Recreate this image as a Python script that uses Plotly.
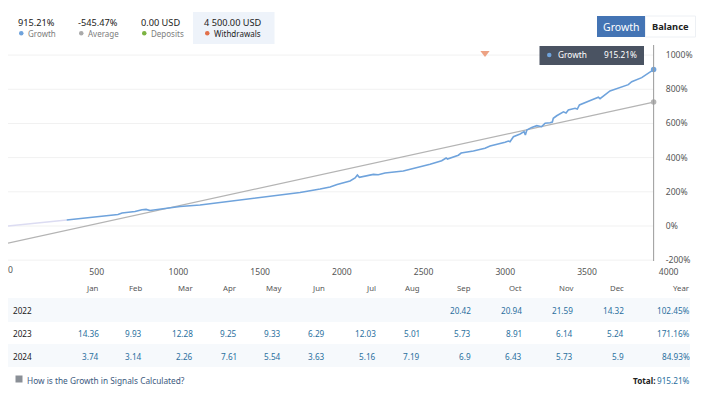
import plotly.graph_objects as go

W, H = 702, 400
FONT = "Noto Sans"

# pre-signal part of the growth curve (pale)
early_x = [-43, 100, 220, 316]
early_y = [0, 14, 25, 35]

growth_x = [316, 398, 520, 630, 655, 734, 777, 802, 826, 918, 1010, 1132, 1255, 1334, 1340, 1438, 1561, 1683,
            1744, 1867, 1928, 1971, 2020, 2050, 2081, 2095, 2107, 2142, 2193, 2223, 2264, 2376, 2458, 2540,
            2611, 2638, 2646, 2713, 2730, 2805, 2876, 2907, 2999, 3019, 3029, 3050, 3091, 3115, 3123, 3132,
            3162, 3193, 3223, 3244, 3274, 3288, 3294, 3315, 3356, 3372, 3386, 3427, 3441, 3454, 3539, 3570,
            3580, 3641, 3753, 3774, 3835, 3908]
growth_y = [35, 43, 56, 67, 76, 85, 95, 97, 91, 102, 114, 123, 137, 146, 149, 161, 173, 187,
            196, 216, 228, 243, 257, 263, 281, 298, 285, 291, 302, 300, 310, 322, 341, 361,
            382, 398, 392, 414, 427, 439, 455, 468, 490, 497, 493, 522, 538, 552, 532, 562,
            577, 587, 581, 601, 604, 608, 630, 645, 668, 661, 679, 689, 684, 708, 741, 753,
            745, 790, 827, 844, 868, 915]

average_x = [-43, 3908]
average_y = [-100, 725]

withdrawal_x = [2876]
withdrawal_y = [1012]

x_ticks = [500, 1000, 1500, 2000, 2500, 3000, 3500, 4000]
y_ticks = [-200, 0, 200, 400, 600, 800, 1000]
y_labels = ["-200%", "0%", "200%", "400%", "600%", "800%", "1000%"]

months = ["Jan", "Feb", "Mar", "Apr", "May", "Jun", "Jul", "Aug", "Sep", "Oct", "Nov", "Dec", "Year"]
row_2022 = ["", "", "", "", "", "", "", "", "20.42", "20.94", "21.59", "14.32", "102.45%"]
row_2023 = ["14.36", "9.93", "12.28", "9.25", "9.33", "6.29", "12.03", "5.01", "5.73", "8.91", "6.14", "5.24", "171.16%"]
row_2024 = ["3.74", "3.14", "2.26", "7.61", "5.54", "3.63", "5.16", "7.19", "6.9", "6.43", "5.73", "5.9", "84.93%"]
years = ["2022", "2023", "2024"]

stat_values = ["915.21%", "-545.47%", "0.00 USD", "4 500.00 USD"]
stat_names = ["Growth", "Average", "Deposits", "Withdrawals"]
stat_colors = ["#6fa3dc", "#aaaaaa", "#7cb342", "#e2704a"]

col_right = [98.5, 142, 193, 237, 281, 325, 376, 420, 471, 522, 573, 624, 690]
stat_left = [18, 78, 141, 204]


def px(x):
    return x / W


def py(y):
    return 1 - y / H


def rect(x0, y0, x1, y1, fill, line=None):
    return dict(type="rect", xref="paper", yref="paper", x0=px(x0), x1=px(x1), y0=py(y0), y1=py(y1),
                fillcolor=fill, line=dict(color=line or fill, width=1 if line else 0), layer="below")


def text(x, y, s, size=8.3, color="#333333", anchor="left", bold=False):
    if bold:
        s = f"<b>{s}</b>"
    # annotations carry about 2px of padding on the anchored side
    shift = {"left": -2, "right": 2, "center": 0}[anchor]
    return dict(xref="paper", yref="paper", x=px(x + shift), y=py(y), text=s, showarrow=False, xanchor=anchor,
                yanchor="middle", font=dict(family=FONT, size=size, color=color))


fig = go.Figure()
fig.add_trace(go.Scatter(x=early_x, y=early_y, mode="lines", line=dict(color="#dcdcf2", width=1.5)))
fig.add_trace(go.Scatter(x=average_x, y=average_y, mode="lines", line=dict(color="#b4b4b4", width=1.3)))
fig.add_trace(go.Scatter(x=growth_x, y=growth_y, mode="lines", line=dict(color="#6fa3dc", width=1.6)))
fig.add_trace(go.Scatter(x=average_x[-1:], y=average_y[-1:], mode="markers", cliponaxis=False,
                         marker=dict(color="#b4b4b4", size=5.5)))
fig.add_trace(go.Scatter(x=growth_x[-1:], y=growth_y[-1:], mode="markers", cliponaxis=False,
                         marker=dict(color="#6fa3dc", size=5.5)))
fig.add_trace(go.Scatter(x=withdrawal_x, y=withdrawal_y, mode="markers", cliponaxis=False,
                         marker=dict(color="#eda283", size=8, symbol="triangle-down")))

shapes = [
    rect(193, 12, 274.5, 44, "#eef3fa"),
    rect(8, 298, 690, 322, "#f6f9fc"),
    rect(8, 344, 690, 367, "#f6f9fc"),
    rect(597, 16, 645.5, 37, "#4474b4"),
    rect(645.5, 16, 695.5, 37, "#ffffff", "#edf0f4"),
    rect(15.5, 375.5, 22.5, 382.5, "#8a8f96"),
]
for y in y_ticks:
    shapes.append(dict(type="line", xref="x", yref="y", x0=-43, x1=3908, y0=y, y1=y,
                       line=dict(color="#f1f1f1", width=1), layer="below"))
shapes.append(dict(type="line", xref="x", yref="paper", x0=3908, x1=3908, y0=py(261), y1=py(45),
                   line=dict(color="#9a9a9a", width=1)))
# tooltip box
shapes.append(rect(539.5, 46, 644, 65, "#4a5362"))
shapes[-1]["layer"] = "above"
shapes.append(dict(type="circle", xref="paper", yref="paper", x0=px(547), x1=px(551.5), y0=py(57.3), y1=py(52.8),
                   fillcolor="#6fa3dc", line=dict(width=0)))
for left, color in zip(stat_left, stat_colors):
    shapes.append(dict(type="circle", xref="paper", yref="paper", x0=px(left + 1), x1=px(left + 5.5),
                       y0=py(35.5), y1=py(31), fillcolor=color, line=dict(width=0)))

notes = [text(8, 270, "0", 8.6, "#555555")]
for left, value, name in zip(stat_left, stat_values, stat_names):
    notes.append(text(left, 22, value, 9.2, "#222222"))
    notes.append(text(left + 9.5, 33.5, name, 8, "#222222" if name == "Withdrawals" else "#7d7d7d"))
notes.append(text(621, 26.5, "Growth", 10.5, "#ffffff", "center"))
notes.append(text(670.5, 26.5, "Balance", 9.3, "#222222", "center", True))
notes.append(text(557.5, 55, "Growth", 8.3, "#ffffff"))
notes.append(text(636.5, 55, "915.21%", 8.3, "#ffffff", "right"))

for right, name in zip(col_right, months):
    notes.append(text(right, 288, name, 7.8, "#555555", "right"))
for year, row, y in zip(years, [row_2022, row_2023, row_2024], [310, 333, 356]):
    notes.append(text(13, y, year, 8.2, "#222222"))
    for right, value in zip(col_right, row):
        if value:
            notes.append(text(right, y, value, 8.2, "#2a6f9e", "right"))
notes.append(text(27, 380, "How is the Growth in Signals Calculated?", 8.3, "#3d5a80"))
notes.append(text(690, 380, "915.21%", 8.2, "#2a6f9e", "right"))
notes.append(text(655, 380, "Total:", 8.2, "#222222", "right", True))

fig.update_layout(
    width=W, height=H, margin=dict(l=0, r=0, t=0, b=0, autoexpand=False), paper_bgcolor="white",
    plot_bgcolor="white", showlegend=False, shapes=shapes, annotations=notes, font=dict(family=FONT),
    xaxis=dict(domain=[px(8), px(694)], range=[-43, 4155], tickvals=x_ticks, showgrid=False, zeroline=False,
               ticks="outside", ticklen=3, tickcolor="rgba(0,0,0,0)", showline=False,
               tickfont=dict(family=FONT, size=8.6, color="#555555")),
    yaxis=dict(domain=[py(261), py(45)], range=[-205, 1059], tickvals=y_ticks, ticktext=y_labels, side="right",
               anchor="free", position=px(654), showgrid=False, zeroline=False, ticks="outside", ticklen=9,
               tickcolor="rgba(0,0,0,0)", showline=False,
               tickfont=dict(family=FONT, size=8.6, color="#555555")),
)

fig.write_html("out.html", config={"displayModeBar": False}, post_script="document.body.style.margin='0';")
